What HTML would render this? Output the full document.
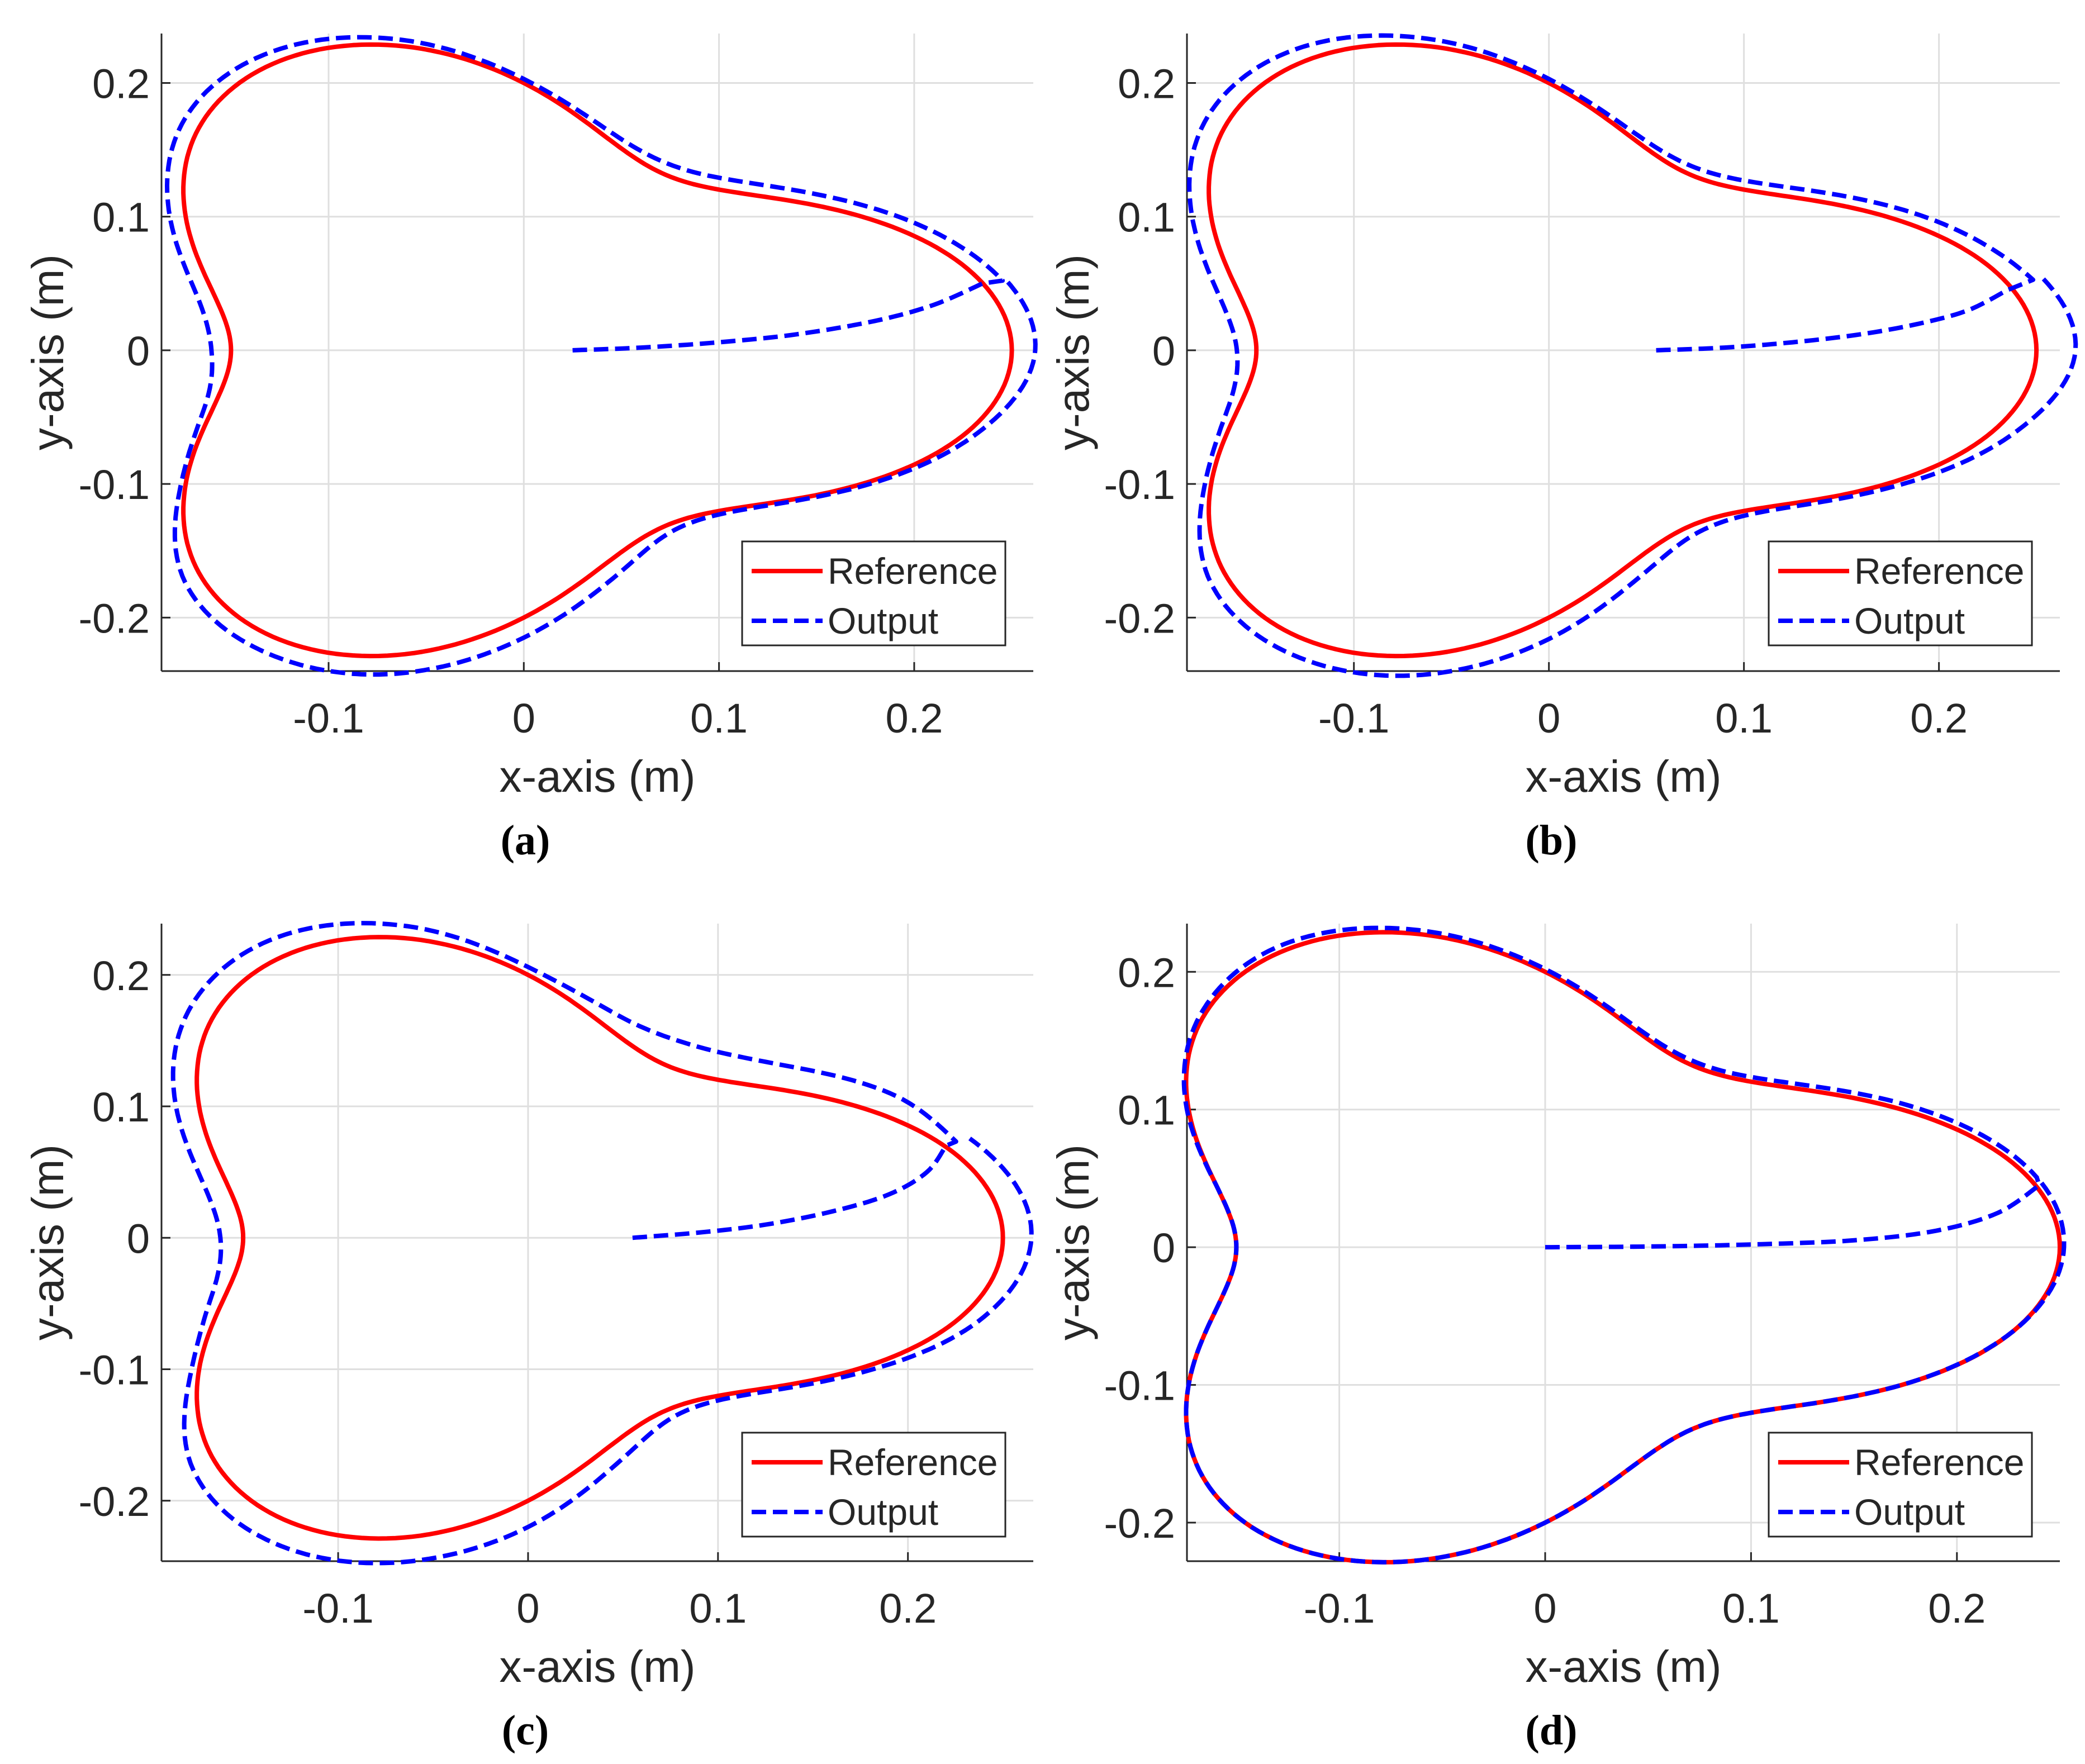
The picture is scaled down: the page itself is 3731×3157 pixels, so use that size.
<!DOCTYPE html>
<html><head><meta charset="utf-8"><style>
html,body{margin:0;padding:0;background:#fff}
svg{display:block}
text{font-family:"Liberation Sans",sans-serif;fill:#262626}
.cap{font-family:"Liberation Serif",serif;font-weight:bold;fill:#000}
</style></head><body>
<svg id="fig" width="3731" height="3157" viewBox="0 0 3731 3157" xmlns="http://www.w3.org/2000/svg"></svg>
<script>
// ---- data ----
// reference radius, one period (120 deg) sampled every 5 deg
const refR = [0.25,0.2483,0.2433,0.2354,0.225,0.2129,0.2,0.1871,0.175,0.1646,0.1567,0.1517,0.15,0.1517,0.1567,0.1646,0.175,0.1871,0.2,0.2129,0.225,0.2354,0.2433,0.2483];
const deltaTheta = [0,15,30,45,60,75,90,105,120,135,150,165,180,195,210,225,240,255,270,285,300,315,330,345,360,375];
const deltaA = [0.012,0.01,0.01,0.01,0.008,0.005,0.003,0.005,0.008,0.01,0.01,0.01,0.01,0.005,0.003,0.01,0.012,0.015,0.015,0.012,0.005,0.002,0.002,0.005,0.012,0.012];
const deltaB = [0.02,0.012,0.01,0.008,0.006,0.004,0.003,0.006,0.01,0.012,0.012,0.012,0.01,0.006,0.004,0.01,0.013,0.016,0.016,0.012,0.006,0.003,0.004,0.01,0.02,0.018];
const deltaC = [0.015,0.006,0.02,0.022,0.02,0.012,0.006,0.01,0.014,0.015,0.015,0.014,0.012,0.008,0.005,0.014,0.018,0.02,0.02,0.014,0.006,0.003,0.004,0.01,0.015,0.015];
const deltaD = [0.002,0.004,0.005,0.004,0.003,0.002,0.002,0.003,0.004,0.002,0.001,0.0,0.0,0.0,0.0,0.0,0.0,0.0,0.0,0.0,0.0,0.0,0.0,0.0,0.002,0.004];
const loopStart = [12,12,18,12];
const approachXA = [0.025,0.06,0.1,0.14,0.18,0.21,0.235];
const approachYA = [0.0,0.002,0.006,0.012,0.022,0.034,0.05];
const approachXB = [0.055,0.09,0.125,0.16,0.19,0.215,0.235];
const approachYB = [0.0,0.002,0.006,0.012,0.02,0.03,0.045];
const approachXC = [0.055,0.09,0.125,0.16,0.19,0.21,0.22];
const approachYC = [0.0,0.004,0.01,0.02,0.033,0.05,0.07];
const approachXD = [0.0,0.05,0.1,0.15,0.19,0.22,0.24];
const approachYD = [0.0,0.0005,0.002,0.005,0.012,0.025,0.045];
const xTickVals = [-0.1,0,0.1,0.2];
const xTickLabels = ['-0.1','0','0.1','0.2'];
const yTickVals = [0.2,0.1,0,-0.1,-0.2];
const yTickLabels = ['0.2','0.1','0','-0.1','-0.2'];
const captions = ['(a)','(b)','(c)','(d)'];
const legendLabels = ['Reference','Output'];

// ---- layout ----
const panels = [
 {L:289,R:1849,T:60,B:1201,xlim:[-0.1856,0.261],ylim:[-0.240,0.237],delta:deltaA,ax:approachXA,ay:approachYA,capX:940,leg:[1335,974]},
 {L:2124,R:3686,T:60,B:1201,xlim:[-0.1856,0.262],ylim:[-0.240,0.237],delta:deltaB,ax:approachXB,ay:approachYB,capX:2776,leg:[3172,974]},
 {L:289,R:1849,T:1653,B:2794,xlim:[-0.193,0.266],ylim:[-0.246,0.239],delta:deltaC,ax:approachXC,ay:approachYC,capX:940,leg:[1335,2569]},
 {L:2124,R:3686,T:1653,B:2794,xlim:[-0.174,0.25],ylim:[-0.228,0.235],delta:deltaD,ax:approachXD,ay:approachYD,capX:2776,leg:[3172,2569]}
];
const NS='http://www.w3.org/2000/svg';
const svg=document.getElementById('fig');
function mk(tag,attrs,parent){const e=document.createElementNS(NS,tag);for(const k in attrs)e.setAttribute(k,attrs[k]);(parent||svg).appendChild(e);return e;}
function cr(p0,p1,p2,p3,t){const t2=t*t,t3=t2*t;return 0.5*((2*p1)+(-p0+p2)*t+(2*p0-5*p1+4*p2-p3)*t2+(-p0+3*p1-3*p2+p3)*t3);}
function refAt(deg){const n=refR.length;const d=((deg%120)+120)%120;const f=d/5;const i=Math.floor(f);const t=f-i;
 return cr(refR[(i-1+n)%n],refR[i%n],refR[(i+1)%n],refR[(i+2)%n],t);}
function deltaAt(arr,deg){const f=deg/15;const i=Math.min(Math.floor(f),arr.length-2);const t=f-i;
 const a0=arr[Math.max(i-1,0)],a1=arr[i],a2=arr[i+1],a3=arr[Math.min(i+2,arr.length-1)];return cr(a0,a1,a2,a3,t);}

panels.forEach((p,pi)=>{
 const g=mk('g',{});
 
 
 const X=v=>p.L+(v-p.xlim[0])/(p.xlim[1]-p.xlim[0])*(p.R-p.L);
 const Y=v=>p.B-(v-p.ylim[0])/(p.ylim[1]-p.ylim[0])*(p.B-p.T);
 xTickVals.forEach((v,i)=>{const l=mk('line',{x1:X(v),x2:X(v),y1:p.T,y2:p.B,stroke:'#dfdfdf','stroke-width':3},g);
  });
 yTickVals.forEach((v,i)=>{const l=mk('line',{x1:p.L,x2:p.R,y1:Y(v),y2:Y(v),stroke:'#dfdfdf','stroke-width':3},g);
  });
 const xa=mk('line',{x1:p.L,x2:p.R,y1:p.B,y2:p.B,stroke:'#262626','stroke-width':3},g);
 
 const ya=mk('line',{x1:p.L,x2:p.L,y1:p.T,y2:p.B,stroke:'#262626','stroke-width':3},g);
 
 xTickVals.forEach((v,i)=>{mk('line',{x1:X(v),x2:X(v),y1:p.B,y2:p.B-16,stroke:'#262626','stroke-width':3},g);
  const t=mk('text',{x:X(v),y:p.B+110,'font-size':74,'text-anchor':'middle'},g);t.textContent=xTickLabels[i];
  });
 yTickVals.forEach((v,i)=>{mk('line',{x1:p.L,x2:p.L+16,y1:Y(v),y2:Y(v),stroke:'#262626','stroke-width':3},g);
  const t=mk('text',{x:p.L-21,y:Y(v)+27,'font-size':74,'text-anchor':'end'},g);t.textContent=yTickLabels[i];
  });
 const xl=mk('text',{x:(p.L+p.R)/2,y:p.B+216,'font-size':80,'text-anchor':'middle'},g);xl.textContent='x-axis (m)';
 
 const yx=p.L-176, yy=(p.T+p.B)/2;
 const yl=mk('text',{x:yx,y:yy,'font-size':80,'text-anchor':'middle',transform:`rotate(-90 ${yx} ${yy})`},g);yl.textContent='y-axis (m)';
 
 const cp=mk('text',{x:p.capX,y:p.B+328,'font-size':76,'text-anchor':'middle',class:'cap'},g);cp.textContent=captions[pi];
 
 // reference curve
 let d='';
 for(let a=0;a<=360;a+=1){const r=refAt(a),rad=a*Math.PI/180;d+=(a?'L':'M')+X(r*Math.cos(rad)).toFixed(1)+','+Y(r*Math.sin(rad)).toFixed(1);}
 const rp=mk('path',{d:d+'Z',fill:'none',stroke:'#ff0000','stroke-width':8,'stroke-linejoin':'round'},g);
 
 // output curve
 let od='';
 const n=p.ax.length;
 for(let i=0;i<n-1;i++){
  const x0=p.ax[Math.max(i-1,0)],x1=p.ax[i],x2=p.ax[i+1],x3=p.ax[Math.min(i+2,n-1)];
  const y0=p.ay[Math.max(i-1,0)],y1=p.ay[i],y2=p.ay[i+1],y3=p.ay[Math.min(i+2,n-1)];
  for(let s=0;s<10;s++){const t=s/10;od+=(od?'L':'M')+X(cr(x0,x1,x2,x3,t)).toFixed(1)+','+Y(cr(y0,y1,y2,y3,t)).toFixed(1);}
 }
 od+='L'+X(p.ax[n-1]).toFixed(1)+','+Y(p.ay[n-1]).toFixed(1);
 const st=loopStart[pi];
 for(let a=st;a<=st+360;a+=1){const r=refAt(a)+deltaAt(p.delta,a),rad=a*Math.PI/180;od+='L'+X(r*Math.cos(rad)).toFixed(1)+','+Y(r*Math.sin(rad)).toFixed(1);}
 const op=mk('path',{d:od,fill:'none',stroke:'#0000ff','stroke-width':8,'stroke-dasharray':'26 12','stroke-linejoin':'round'},g);
 
 // legend
 const [lx,ly]=[p.leg[0]-7,p.leg[1]-5];
 const lg=mk('g',{},g);
 
 mk('rect',{x:lx,y:ly,width:471,height:186,fill:'#fff',stroke:'#262626','stroke-width':3},lg);
 mk('line',{x1:lx+17,x2:lx+144,y1:ly+53,y2:ly+53,stroke:'#ff0000','stroke-width':8},lg);
 mk('line',{x1:lx+17,x2:lx+144,y1:ly+142,y2:ly+142,stroke:'#0000ff','stroke-width':8,'stroke-dasharray':'26 12'},lg);
 legendLabels.forEach((s,i)=>{const t=mk('text',{x:lx+153,y:ly+76+i*89,'font-size':66},lg);t.textContent=s;
  });
});
</script>
</body></html>
